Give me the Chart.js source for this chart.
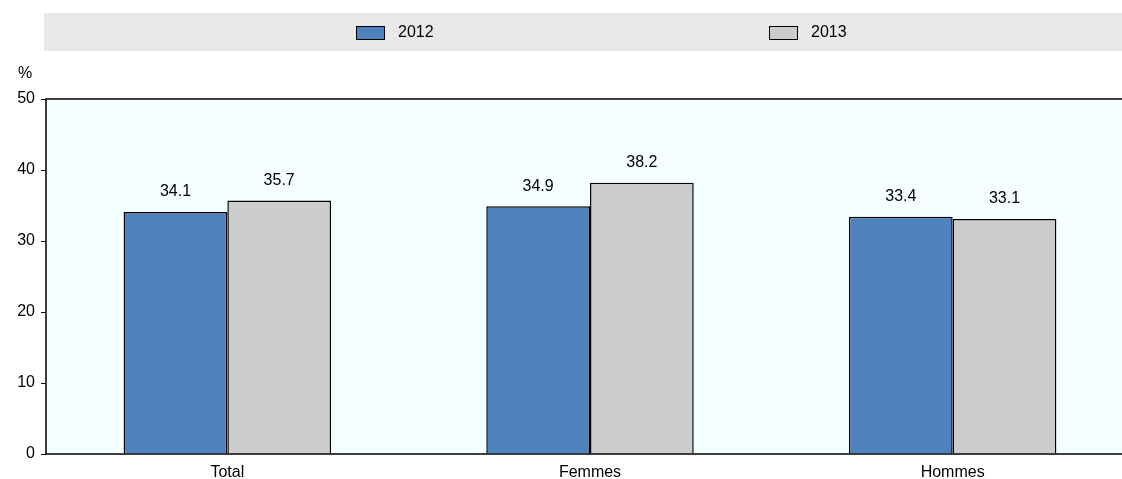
<!DOCTYPE html>
<html>
<head>
<meta charset="utf-8">
<script src="https://cdn.jsdelivr.net/npm/chart.js@4/dist/chart.umd.min.js"></script>
<style>
  html, body { margin: 0; padding: 0; background: #fff; overflow: hidden; }
  #wrap { width: 1134px; height: 479px; }
</style>
</head>
<body>
<div id="wrap"><canvas id="barChart"></canvas></div>
<script>
// categories and yearly values (%)
const categories = ['Total', 'Femmes', 'Hommes'];
const years = ['2012', '2013'];
const values2012 = [34.1, 34.9, 33.4];
const values2013 = [35.7, 38.2, 33.1];
const yTicks = [0, 10, 20, 30, 40, 50];

const FONT = 'Liberation Sans, Arial, sans-serif';

// light background behind the plotting area
const plotBackground = {
  id: 'plotBackground',
  beforeDraw(chart) {
    const { ctx, chartArea: a } = chart;
    ctx.save();
    ctx.fillStyle = '#F4FFFF';
    ctx.fillRect(a.left, a.top, a.right - a.left, a.bottom - a.top);
    ctx.restore();
  },
  afterDatasetsDraw(chart) {
    const { ctx, chartArea: a } = chart;
    ctx.save();
    ctx.strokeStyle = '#000';
    ctx.lineWidth = 1.5;
    ctx.beginPath();
    ctx.moveTo(a.left, a.bottom);
    ctx.lineTo(a.left, a.top);
    ctx.lineTo(a.right, a.top);
    ctx.moveTo(a.left, a.bottom);
    ctx.lineTo(a.right, a.bottom);
    ctx.stroke();
    ctx.restore();
  }
};

// grey legend band with the two series, plus the unit label
const legendBand = {
  id: 'legendBand',
  afterDraw(chart) {
    const { ctx } = chart;
    ctx.save();
    ctx.fillStyle = '#E8E8E8';
    ctx.fillRect(44, 13, chart.width - 44, 38);
    const xs = [356, 769];
    chart.data.datasets.forEach((ds, i) => {
      ctx.fillStyle = ds.backgroundColor;
      ctx.fillRect(xs[i], 26, 29, 14);
      ctx.strokeStyle = '#000';
      ctx.lineWidth = 1;
      ctx.strokeRect(xs[i] + 0.5, 26.5, 28, 13);
      ctx.fillStyle = '#000';
      ctx.font = '16px ' + FONT;
      ctx.textBaseline = 'middle';
      ctx.textAlign = 'left';
      ctx.fillText(ds.label, xs[i] + 42, 33);
    });
    ctx.font = '16px ' + FONT;
    ctx.textAlign = 'center';
    ctx.fillText('%', 25, 74);
    ctx.restore();
  }
};

// value labels above each bar
const valueLabels = {
  id: 'valueLabels',
  afterDatasetsDraw(chart) {
    const { ctx } = chart;
    ctx.save();
    ctx.fillStyle = '#000';
    ctx.font = '16px ' + FONT;
    ctx.textAlign = 'center';
    ctx.textBaseline = 'bottom';
    chart.data.datasets.forEach((ds, i) => {
      chart.getDatasetMeta(i).data.forEach((bar, j) => {
        ctx.fillText(ds.data[j].toFixed(1), bar.x, bar.y - 12);
      });
    });
    ctx.restore();
  }
};

const chartData = {
  labels: categories,
  datasets: [
    {
      label: years[0],
      data: values2012,
      backgroundColor: '#4F81BD',
      borderColor: '#000',
      borderWidth: 1.5
    },
    {
      label: years[1],
      data: values2013,
      backgroundColor: '#CCCCCC',
      borderColor: '#000',
      borderWidth: 1.5
    }
  ]
};

const chartOptions = {
  responsive: true,
  maintainAspectRatio: false,
  animation: false,
  layout: { padding: { top: 99, left: 0, right: 0, bottom: 0 } },
  datasets: { bar: { categoryPercentage: 0.572, barPercentage: 1.0 } },
  plugins: { legend: { display: false }, tooltip: { enabled: false } },
  scales: {
    x: {
      grid: { display: false },
      border: { display: false },
      ticks: { color: '#000', font: { family: FONT, size: 16 }, padding: 1 },
      afterFit(scale) { scale.height = 25; }
    },
    y: {
      min: 0,
      max: 50,
      afterBuildTicks(scale) { scale.ticks = yTicks.map(v => ({ value: v })); },
      grid: { drawOnChartArea: false, drawTicks: true, tickLength: 5, color: '#000' },
      border: { display: false },
      ticks: { color: '#000', font: { family: FONT, size: 16 }, padding: 6 },
      afterFit(scale) { scale.width = 46; }
    }
  }
};

new Chart(document.getElementById('barChart'), {
  type: 'bar',
  data: chartData,
  options: chartOptions,
  plugins: [plotBackground, legendBand, valueLabels]
});
</script>
</body>
</html>
